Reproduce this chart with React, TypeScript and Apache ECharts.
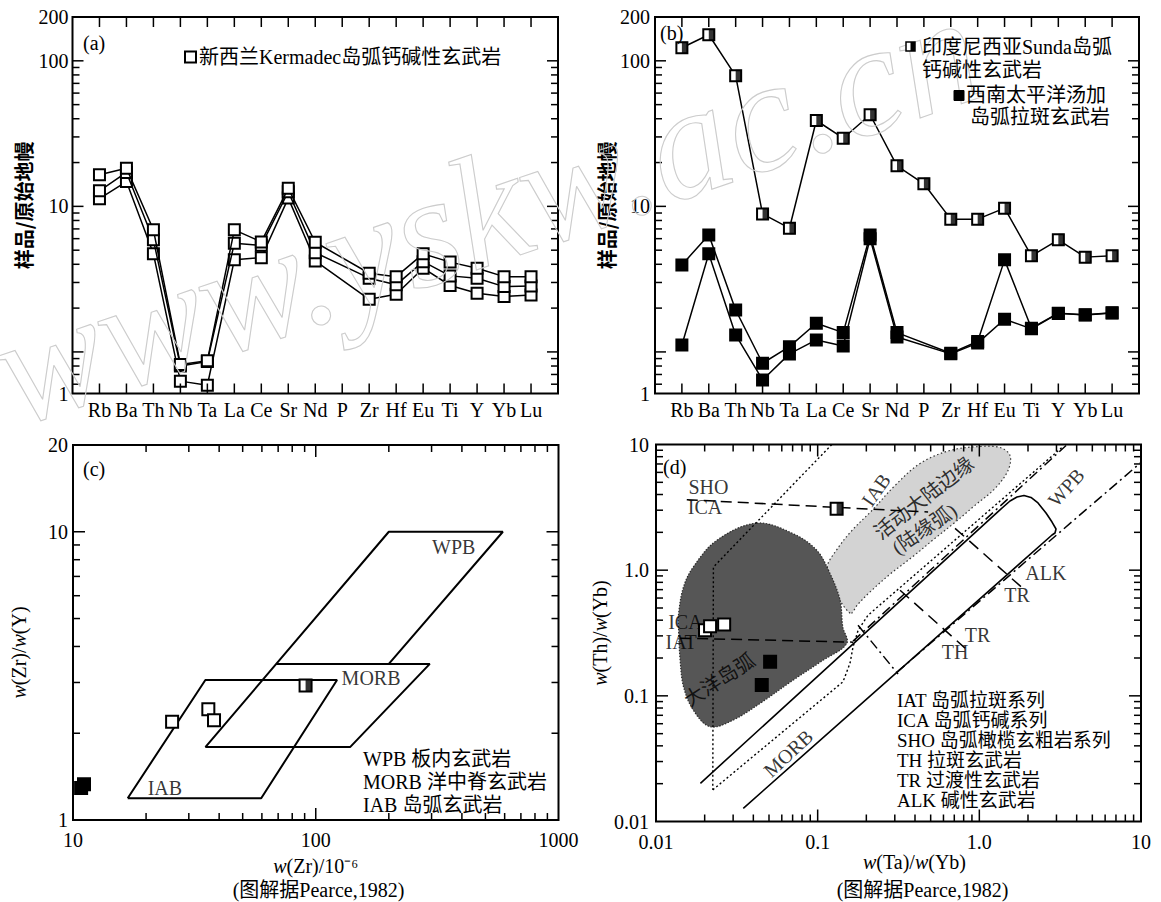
import React, { useEffect, useRef } from 'react';
import * as echarts from 'echarts';

// ---------------- (a)/(b) primitive-mantle normalised spider diagrams ----------------
const ELEMENTS = ['Rb', 'Ba', 'Th', 'Nb', 'Ta', 'La', 'Ce', 'Sr', 'Nd', 'P', 'Zr', 'Hf', 'Eu', 'Ti', 'Y', 'Yb', 'Lu'];
const KERMADEC_1 = [16.5, 18.3, 6.9, 0.82, 0.87, 6.9, 5.7, 13.3, 5.67, null, 3.47, 3.29, 4.72, 4.14, 3.76, 3.29, 3.29];
const KERMADEC_2 = [12.8, 17.1, 5.89, 0.8, 0.86, 5.58, 5.4, 12.6, 4.81, null, 3.21, 2.89, 4.17, 3.33, 3.21, 2.81, 2.84];
const KERMADEC_3 = [11.3, 14.8, 4.72, 0.63, 0.59, 4.29, 4.44, 11.4, 4.22, null, 2.3, 2.49, 3.76, 2.86, 2.53, 2.4, 2.46];
const SUNDA = [123, 151, 78.9, 8.88, 7.08, 38.9, 29.4, 42.6, 19.0, 14.3, 8.17, 8.17, 9.72, 4.57, 5.89, 4.48, 4.57];
const TONGA_1 = [3.96, 6.37, 1.94, 0.836, 1.087, 1.575, 1.357, 6.37, 1.357, null, 0.98, 1.18, 4.29, 1.455, 1.845, 1.8, 1.86];
const TONGA_2 = [1.117, 4.72, 1.309, 0.642, 0.969, 1.209, 1.1, 6.0, 1.268, null, 0.97, 1.15, 1.678, 1.44, 1.84, 1.79, 1.85];
const SPIDER_Y_MIN = 0.518;
const SPIDER_Y_MAX = 200;
const SPIDER_MAJOR_Y = [1, 10, 100];
const SPIDER_MINOR_Y = [0.6, 0.7, 0.8, 0.9, 2, 3, 4, 5, 6, 7, 8, 9, 20, 30, 40, 50, 60, 70, 80, 90];

// ---------------- (c) Zr/Y vs Zr ----------------
const C_KERMADEC_ZR = [25.6, 36.1, 38.1];
const C_KERMADEC_ZRY = [2.19, 2.42, 2.22];
const C_SUNDA_ZR = [90.8];
const C_SUNDA_ZRY = [2.93];
const C_TONGA_ZR = [10.8, 11.1];
const C_TONGA_ZRY = [1.29, 1.33];
const C_WPB = [[35.1, 1.79], [200, 10], [590, 10], [200, 3.48]];
const C_MORB = [[68.7, 3.48], [295, 3.48], [138.5, 1.79], [35.1, 1.79]];
const C_IAB = [[16.8, 1.19], [35.1, 3.06], [122.4, 3.06], [59.6, 1.19], [16.8, 1.19]];
const C_LABELS = [
  { text: 'WPB', x: 370, y: 8.88 },
  { text: 'MORB', x: 169, y: 3.1 },
  { text: 'IAB', x: 23.9, y: 1.288 },
];
const C_MAJOR_X = [100];
const C_MINOR_X = [20, 30, 40, 50, 60, 70, 80, 90, 200, 300, 400, 500, 600, 700, 800, 900];
const C_MAJOR_Y = [10];
const C_MINOR_Y = [2, 3, 4, 5, 6, 7, 8, 9];
const C_LEGEND = ['WPB 板内玄武岩', 'MORB 洋中脊玄武岩', 'IAB 岛弧玄武岩'];

// ---------------- (d) Th/Yb vs Ta/Yb ----------------
const D_KERMADEC_TAYB = [0.0201, 0.0216, 0.0264];
const D_KERMADEC_THYB = [0.333, 0.358, 0.37];
const D_SUNDA_TAYB = [0.131];
const D_SUNDA_THYB = [3.08];
const D_TONGA_TAYB = [0.0508, 0.0451];
const D_TONGA_THYB = [0.187, 0.122];
const D_OCEANIC_ARC = [
  [0.042, 2.37], [0.0707, 1.95], [0.0987, 1.44], [0.1193, 0.94], [0.1376, 0.577], [0.143, 0.354],
  [0.1514, 0.261], [0.1084, 0.1925], [0.0707, 0.1335], [0.0441, 0.0872], [0.0301, 0.0643],
  [0.0216, 0.0568], [0.017, 0.0771], [0.0148, 0.118], [0.0141, 0.1925], [0.0138, 0.333],
  [0.0138, 0.452], [0.0148, 0.736], [0.017, 1.06], [0.0238, 1.73],
];
const D_CONT_MARGIN = [
  [0.1586, 0.455], [0.1227, 0.759], [0.1143, 1.054], [0.1318, 1.466], [0.1632, 2.075], [0.217, 2.99],
  [0.301, 4.72], [0.43, 7.07], [0.659, 8.96], [1.01, 9.64], [1.343, 9.47], [1.548, 8.18], [1.505, 6.22],
  [1.251, 4.47], [0.94, 3.28], [0.707, 2.4], [0.531, 1.79], [0.384, 1.27], [0.28, 0.928], [0.21, 0.668],
  [0.1775, 0.536],
];
const D_ARRAY = [
  [0.01882, 0.02014], [1.342, 3.023], [1.548, 3.551], [1.71, 3.822], [1.889, 3.929], [2.087, 3.787],
  [2.306, 3.424], [2.585, 2.85], [2.816, 2.416], [2.981, 2.127], [2.938, 1.976], [2.816, 1.905],
  [0.03467, 0.01274],
];
const D_IAB_LEFT = [[0.1223, 10], [0.02265, 1.06], [0.02245, 0.01786]];
const D_IAB_RIGHT = [[0.02245, 0.01786], [0.1435, 0.1294], [0.1586, 0.1822], [0.1655, 0.2455], [0.178, 0.333], [0.205, 0.438], [3.246, 9.47]];
const D_DASHDOT_UPPER = [[0.1655, 0.2724], [3.44, 9.82]];
const D_DASHDOT_LOWER = [[0.3097, 0.1545], [10, 7.2]];
const D_DASHDOT_CROSS = [[0.1777, 0.365], [0.3142, 0.149]];
const D_SHO_ICA = [[0.0155, 3.64], [0.482, 2.9]];
const D_ICA_IAT = [[0.0141, 0.2877], [0.1655, 0.2675]];
const D_TH_TR = [[0.3233, 0.692], [0.8159, 0.2397]];
const D_TR_ALK = [[0.7075, 2.152], [1.917, 0.692]];
const D_LABELS = [
  { text: 'SHO', x: 0.0211, y: 4.6 },
  { text: 'ICA', x: 0.0201, y: 3.2 },
  { text: 'ICA', x: 0.0152, y: 0.389 },
  { text: 'IAT', x: 0.0143, y: 0.27 },
  { text: 'IAB', x: 0.2295, y: 4.35, rot: 55 },
  { text: '活动大陆边缘', x: 0.455, y: 3.75, rot: 38 },
  { text: '(陆缘弧)', x: 0.457, y: 2.13, rot: 34 },
  { text: '大洋岛弧', x: 0.0247, y: 0.1337, rot: 33 },
  { text: 'MORB', x: 0.0658, y: 0.0349, rot: 43 },
  { text: 'WPB', x: 3.44, y: 4.55, rot: 48 },
  { text: 'ALK', x: 2.58, y: 0.944 },
  { text: 'TR', x: 1.71, y: 0.634 },
  { text: 'TR', x: 0.974, y: 0.305 },
  { text: 'TH', x: 0.707, y: 0.224 },
];
const D_MAJOR = [0.1, 1];
const D_MINOR = [0.02, 0.03, 0.04, 0.05, 0.06, 0.07, 0.08, 0.09, 0.2, 0.3, 0.4, 0.5, 0.6, 0.7, 0.8, 0.9, 2, 3, 4, 5, 6, 7, 8, 9];
const D_LEGEND = ['IAT 岛弧拉斑系列', 'ICA 岛弧钙碱系列', 'SHO 岛弧橄榄玄粗岩系列', 'TH 拉斑玄武岩', 'TR 过渡性玄武岩', 'ALK 碱性玄武岩'];

const SERIF = "'Liberation Serif', 'Times New Roman', 'Noto Sans CJK SC', serif";
const CJK = "'Noto Sans CJK SC', sans-serif";

const GRIDS = [
  { left: 72.5, top: 17, width: 485.5, height: 376.5 },
  { left: 655, top: 17, width: 484, height: 376.5 },
  { left: 73, top: 445, width: 485.5, height: 375 },
  { left: 656, top: 444.5, width: 485, height: 377 },
];

function tickItems(xRef: number, yRef: number, majX: number[], minX: number[], majY: number[], minY: number[], majLen = 12, minLen = 7) {
  const out: number[][] = [];
  majX.forEach((v) => out.push([v, yRef, 1, majLen]));
  minX.forEach((v) => out.push([v, yRef, 1, minLen]));
  majY.forEach((v) => out.push([xRef, v, 0, majLen]));
  minY.forEach((v) => out.push([xRef, v, 0, minLen]));
  return out;
}

function tickSeries(gi: number, items: number[][]) {
  return {
    type: 'custom', coordinateSystem: 'cartesian2d', xAxisIndex: gi, yAxisIndex: gi, silent: true, z: 20,
    data: items,
    renderItem: (params: any, api: any) => {
      const cs = params.coordSys;
      const kind = api.value(2);
      const len = api.value(3);
      const p = api.coord([api.value(0), api.value(1)]);
      const style = { stroke: '#000', lineWidth: 1.5 };
      if (kind === 0) {
        return {
          type: 'group', children: [
            { type: 'line', shape: { x1: cs.x, y1: p[1], x2: cs.x + len, y2: p[1] }, style },
            { type: 'line', shape: { x1: cs.x + cs.width - len, y1: p[1], x2: cs.x + cs.width, y2: p[1] }, style },
          ],
        };
      }
      return {
        type: 'group', children: [
          { type: 'line', shape: { x1: p[0], y1: cs.y + cs.height, x2: p[0], y2: cs.y + cs.height - len }, style },
          { type: 'line', shape: { x1: p[0], y1: cs.y, x2: p[0], y2: cs.y + len }, style },
        ],
      };
    },
  };
}

function polygonSeries(gi: number, pts: number[][], fill: string, stroke: string, dash: number[], z: number) {
  return {
    type: 'custom', coordinateSystem: 'cartesian2d', xAxisIndex: gi, yAxisIndex: gi, silent: true, z,
    data: pts,
    renderItem: (params: any, api: any) => {
      if (params.dataIndex !== 0) return null;
      const points = pts.map((p) => api.coord(p));
      return { type: 'polygon', shape: { points, smooth: 0.35 }, style: { fill, stroke, lineWidth: 1.2, lineDash: dash } };
    },
  };
}

function lineSeg(gi: number, data: number[][], type: any = 'solid', width = 1.5, z = 6) {
  return {
    type: 'line', xAxisIndex: gi, yAxisIndex: gi, data, symbol: 'none', silent: true, z,
    lineStyle: { color: '#000', width, type },
  };
}

function spiderData(vals: (number | null)[]) {
  return vals.map((v, i) => [i + 1, v]).filter((d) => d[1] != null);
}

function spiderLine(gi: number, vals: (number | null)[], fill: string, z: number) {
  return {
    type: 'line', xAxisIndex: gi, yAxisIndex: gi, data: spiderData(vals), symbol: 'rect', symbolSize: 11,
    showSymbol: true, silent: true, z,
    lineStyle: { color: '#000', width: 1.5 },
    itemStyle: { color: fill, borderColor: '#000', borderWidth: 2 },
  };
}

function points(gi: number, xs: number[], ys: number[], fill: string, z: number) {
  return {
    type: 'scatter', xAxisIndex: gi, yAxisIndex: gi, data: xs.map((x, i) => [x, ys[i]]), symbol: 'rect',
    symbolSize: 12, silent: true, z,
    itemStyle: { color: fill, borderColor: '#000', borderWidth: 2, opacity: 1 },
  };
}

function halfFill(gi: number, data: number[][], z: number) {
  return {
    type: 'scatter', xAxisIndex: gi, yAxisIndex: gi, data, symbol: 'rect', symbolSize: [6, 12],
    symbolOffset: [3, 0], silent: true, z, itemStyle: { color: '#000' },
  };
}

function annotations(gi: number, items: any[]) {
  return {
    type: 'scatter', xAxisIndex: gi, yAxisIndex: gi, symbolSize: 1, silent: true, z: 15,
    itemStyle: { color: 'rgba(0,0,0,0)' },
    data: items.map((it) => ({
      value: [it.x, it.y],
      label: {
        show: true, position: 'inside', formatter: it.text, rotate: it.rot || 0, fontSize: 20,
        fontFamily: SERIF, color: '#000',
      },
    })),
  };
}

const spiderFmt = (v: number) => (v < 0.95 ? '1' : Math.abs(v - 1) < 1e-6 ? '' : String(Math.round(v)));
const ratioFmt = (v: number) => {
  if (Math.abs(v - 1) < 1e-9) return '1.0';
  if (v >= 10) return String(Math.round(v));
  return String(Number(v.toPrecision(3)));
};
const plainFmt = (v: number) => String(Math.round(v));

const labelStyle = { color: '#000', fontFamily: SERIF, fontSize: 20, showMinLabel: true, showMaxLabel: true };
const nameStyle = { color: '#000', fontFamily: SERIF, fontSize: 20, rich: { i: { fontStyle: 'italic', fontFamily: SERIF, fontSize: 20, color: '#000' } } };
const noAxis = { axisLine: { show: false }, axisTick: { show: false }, splitLine: { show: false } };

function buildOption() {
  const xAxis = [
    { ...noAxis, type: 'value', gridIndex: 0, min: 0, max: 18, interval: 1, axisLabel: { ...labelStyle, margin: 6, formatter: (v: number) => ELEMENTS[v - 1] || '' } },
    { ...noAxis, type: 'value', gridIndex: 1, min: 0, max: 18, interval: 1, axisLabel: { ...labelStyle, margin: 6, formatter: (v: number) => ELEMENTS[v - 1] || '' } },
    {
      ...noAxis, type: 'log', logBase: 10, gridIndex: 2, min: 10, max: 1000, axisLabel: { ...labelStyle, margin: 10, formatter: plainFmt },
      name: '{i|w}(Zr)/10⁻⁶', nameLocation: 'middle', nameGap: 36, nameTextStyle: nameStyle,
    },
    {
      ...noAxis, type: 'log', logBase: 10, gridIndex: 3, min: 0.01, max: 10, axisLabel: { ...labelStyle, margin: 10, formatter: ratioFmt },
      name: '{i|w}(Ta)/{i|w}(Yb)', nameLocation: 'middle', nameGap: 30, nameTextStyle: { ...nameStyle, padding: [0, 0, 0, 32] },
    },
  ];
  const yAxis = [
    {
      ...noAxis, type: 'log', logBase: 10, gridIndex: 0, min: SPIDER_Y_MIN, max: SPIDER_Y_MAX, axisLabel: { ...labelStyle, margin: 4, formatter: spiderFmt },
      name: '样品/原始地幔', nameLocation: 'middle', nameGap: 39, nameTextStyle: { color: '#000', fontFamily: CJK, fontSize: 20, fontWeight: 'bold' },
    },
    {
      ...noAxis, type: 'log', logBase: 10, gridIndex: 1, min: SPIDER_Y_MIN, max: SPIDER_Y_MAX, axisLabel: { ...labelStyle, margin: 5, formatter: spiderFmt },
      name: '样品/原始地幔', nameLocation: 'middle', nameGap: 37, nameTextStyle: { color: '#000', fontFamily: CJK, fontSize: 20, fontWeight: 'bold' },
    },
    {
      ...noAxis, type: 'log', logBase: 10, gridIndex: 2, min: 1, max: 20, axisLabel: { ...labelStyle, margin: 5, formatter: plainFmt },
      name: '{i|w}(Zr)/{i|w}(Y)', nameLocation: 'middle', nameGap: 44, nameTextStyle: { ...nameStyle, padding: [0, 40, 0, 0] },
    },
    {
      ...noAxis, type: 'log', logBase: 10, gridIndex: 3, min: 0.01, max: 10, axisLabel: { ...labelStyle, margin: 7, formatter: ratioFmt },
      name: '{i|w}(Th)/{i|w}(Yb)', nameLocation: 'middle', nameGap: 38, nameTextStyle: nameStyle,
    },
  ];

  const catTicks = ELEMENTS.map((_, i) => i + 1);
  const series: any[] = [
    tickSeries(0, tickItems(9, 10, catTicks, [], SPIDER_MAJOR_Y, SPIDER_MINOR_Y, 11, 7).map((t) => (t[2] === 1 ? [t[0], t[1], 1, 10] : t))),
    tickSeries(1, tickItems(9, 10, catTicks, [], SPIDER_MAJOR_Y, SPIDER_MINOR_Y, 11, 7).map((t) => (t[2] === 1 ? [t[0], t[1], 1, 10] : t))),
    tickSeries(2, tickItems(100, 5, C_MAJOR_X, C_MINOR_X, C_MAJOR_Y, C_MINOR_Y)),
    tickSeries(3, tickItems(1, 1, D_MAJOR, D_MINOR, D_MAJOR, D_MINOR)),

    // (a)
    spiderLine(0, KERMADEC_3, '#fff', 5),
    spiderLine(0, KERMADEC_2, '#fff', 6),
    spiderLine(0, KERMADEC_1, '#fff', 7),

    // (b)
    spiderLine(1, SUNDA, '#fff', 5),
    halfFill(1, spiderData(SUNDA), 8),
    spiderLine(1, TONGA_2, '#000', 6),
    spiderLine(1, TONGA_1, '#000', 7),

    // (c)
    lineSeg(2, C_WPB, 'solid', 2),
    lineSeg(2, C_MORB, 'solid', 2),
    lineSeg(2, C_IAB, 'solid', 2),
    points(2, C_KERMADEC_ZR, C_KERMADEC_ZRY, '#fff', 9),
    points(2, C_SUNDA_ZR, C_SUNDA_ZRY, '#fff', 9),
    halfFill(2, C_SUNDA_ZR.map((x, i) => [x, C_SUNDA_ZRY[i]]), 10),
    points(2, C_TONGA_ZR, C_TONGA_ZRY, '#000', 9),
    annotations(2, C_LABELS),

    // (d)
    polygonSeries(3, D_CONT_MARGIN, '#d3d3d3', '#333', [1.5, 2.5], 2),
    polygonSeries(3, D_OCEANIC_ARC, '#565656', '#2a2a2a', [1.5, 1.5], 3),
    lineSeg(3, D_ARRAY, 'solid', 1.6),
    lineSeg(3, D_IAB_LEFT, [2, 2.5], 1.4),
    lineSeg(3, D_IAB_RIGHT, [2, 2.5], 1.4),
    lineSeg(3, D_DASHDOT_UPPER, [10, 4, 2, 4], 1.5),
    lineSeg(3, D_DASHDOT_LOWER, [10, 4, 2, 4], 1.5),
    lineSeg(3, D_DASHDOT_CROSS, [10, 4, 2, 4], 1.5),
    lineSeg(3, D_SHO_ICA, [11, 6], 1.5),
    lineSeg(3, D_ICA_IAT, [11, 6], 1.5),
    lineSeg(3, D_TH_TR, [12, 7], 1.5),
    lineSeg(3, D_TR_ALK, [12, 7], 1.5),
    annotations(3, D_LABELS),
    points(3, D_KERMADEC_TAYB, D_KERMADEC_THYB, '#fff', 16),
    points(3, D_SUNDA_TAYB, D_SUNDA_THYB, '#fff', 16),
    halfFill(3, D_SUNDA_TAYB.map((x, i) => [x, D_SUNDA_THYB[i]]), 17),
    points(3, D_TONGA_TAYB, D_TONGA_THYB, '#000', 16),
  ];

  const txt = (x: number, y: number, text: string, extra: any = {}) => ({
    type: 'text', x, y, silent: true, z: 50,
    style: { text, fill: '#000', fontSize: 20, fontFamily: SERIF, align: 'left', verticalAlign: 'middle', ...extra },
  });

  const graphic: any[] = [
    // watermark (outlined, rotated) drawn first, below the legends
    {
      type: 'text', x: 25, y: 452, rotation: 0.33, silent: true, z: 40,
      style: {
        text: 'www.yskw.ac.cn', fontSize: 160, fontStyle: 'italic', fontFamily: SERIF,
        fill: 'rgba(0,0,0,0)', stroke: '#cccccc', lineWidth: 1.1, align: 'left', verticalAlign: 'bottom',
      },
    },
    // (a) legend
    { type: 'rect', silent: true, z: 50, shape: { x: 185, y: 51.5, width: 11, height: 11 }, style: { fill: '#fff', stroke: '#000', lineWidth: 2 } },
    txt(199, 57, '新西兰Kermadec岛弧钙碱性玄武岩'),
    // (b) legend
    { type: 'rect', silent: true, z: 50, shape: { x: 906, y: 42, width: 9, height: 9 }, style: { fill: '#fff', stroke: '#000', lineWidth: 1.5 } },
    { type: 'rect', silent: true, z: 51, shape: { x: 910.5, y: 42, width: 4.5, height: 9 }, style: { fill: '#000' } },
    txt(922, 46.5, '印度尼西亚Sunda岛弧'),
    txt(922, 70, '钙碱性玄武岩'),
    { type: 'rect', silent: true, z: 51, shape: { x: 954, y: 90.5, width: 10, height: 10 }, style: { fill: '#000', stroke: '#000', lineWidth: 1 } },
    txt(966, 95, '西南太平洋汤加'),
    txt(970, 117, '岛弧拉斑玄武岩'),
    // panel letters
    txt(83, 43, '(a)'),
    txt(660, 33, '(b)'),
    txt(83, 469, '(c)'),
    txt(663, 467, '(d)'),
    // (c) legend
    txt(363, 747, C_LEGEND.join('\n'), { verticalAlign: 'top', lineHeight: 23.3 }),
    // (d) legend
    txt(897, 690, D_LEGEND.join('\n'), { verticalAlign: 'top', lineHeight: 20, fontSize: 19 }),
    // sources
    txt(318.5, 890, '(图解据Pearce,1982)', { align: 'center' }),
    txt(922.5, 890, '(图解据Pearce,1982)', { align: 'center' }),
  ];

  return {
    animation: false,
    backgroundColor: '#fff',
    textStyle: { fontFamily: SERIF },
    grid: GRIDS.map((g) => ({ ...g, show: true, borderColor: '#000', borderWidth: 2, backgroundColor: 'transparent', containLabel: false })),
    xAxis,
    yAxis,
    series,
    graphic,
  };
}

export default function App() {
  const ref = useRef<HTMLDivElement>(null);
  useEffect(() => {
    const chart = echarts.init(ref.current as HTMLDivElement, null, { renderer: 'svg' });
    chart.setOption(buildOption() as any);
    return () => chart.dispose();
  }, []);
  return <div ref={ref} style={{ position: 'absolute', left: 0, top: 0, width: 1161, height: 902, background: '#fff' }} />;
}
